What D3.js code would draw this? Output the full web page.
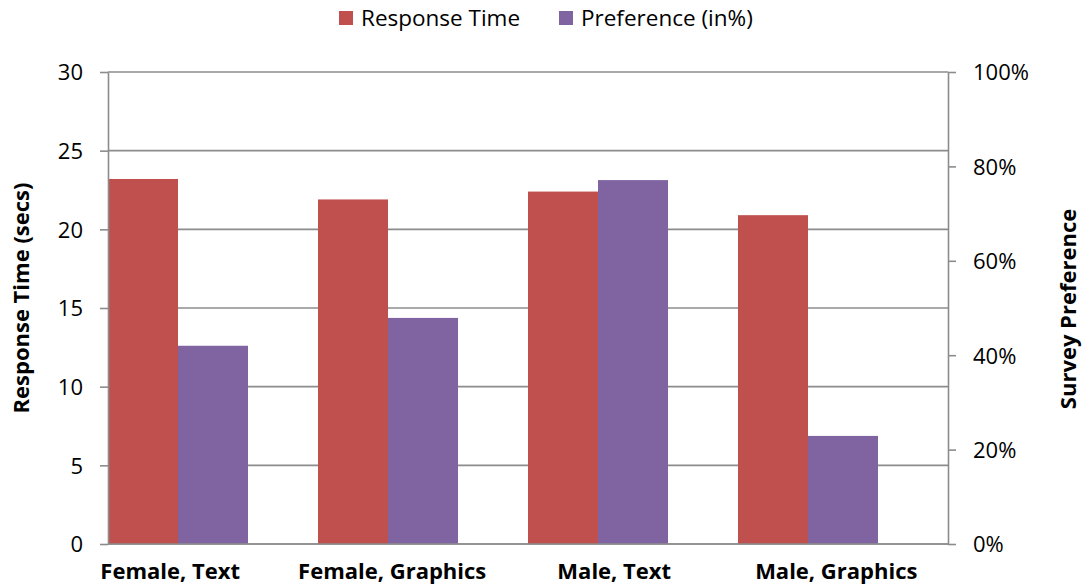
<!DOCTYPE html>
<html>
<head>
<meta charset="utf-8">
<script src="https://d3js.org/d3.v7.min.js"></script>
<style>
    body { margin: 0; background: #fff; }
    text { font-family: "Open Sans", sans-serif; fill: #000; }
</style>
</head>
<body>
<div id="chart"></div>
<script>
var categories = ["Female, Text", "Female, Graphics", "Male, Text", "Male, Graphics"];
var responseTime = [23.2, 21.9, 22.4, 20.9];
var preference = [42.0, 47.9, 77.1, 22.9];
var leftTicks = [0, 5, 10, 15, 20, 25, 30];
var rightTicks = [0, 20, 40, 60, 80, 100];
var seriesNames = ["Response Time", "Preference (in%)"];
var seriesColors = ["#C0504D", "#8064A2"];

var margin = {top: 72, right: 141, bottom: 43, left: 108}
    , width = 1089 - margin.left - margin.right
    , height = 587 - margin.top - margin.bottom;

var svg = d3.select("#chart")
    .append("svg")
    .attr("width", 1089)
    .attr("height", 587);

var main = svg.append("g")
    .attr("transform", "translate(" + margin.left + "," + margin.top + ")");

var x = d3.scaleBand()
    .domain(categories)
    .range([0, width])
    .padding(0);

// label positions in the original sit a bit off the band centres
var xLabel = d3.scalePoint()
    .domain(categories)
    .range([width * 0.074, width * 0.867]);

var yLeft = d3.scaleLinear().domain([0, 30]).range([height, 0]);
var yRight = d3.scaleLinear().domain([0, 100]).range([height, 0]);

// gridlines
main.append("g")
    .selectAll("line")
    .data(leftTicks)
    .enter().append("line")
    .attr("x1", 0)
    .attr("x2", width)
    .attr("y1", function (d) { return yLeft(d); })
    .attr("y2", function (d) { return yLeft(d); })
    .style("stroke", "#8c8c8c")
    .style("stroke-width", 1.6);

var barW = x.bandwidth() / 3;

main.append("g")
    .selectAll("rect")
    .data(responseTime)
    .enter().append("rect")
    .attr("x", function (d, i) { return x(categories[i]); })
    .attr("y", function (d) { return yLeft(d); })
    .attr("width", barW)
    .attr("height", function (d) { return height - yLeft(d); })
    .style("fill", seriesColors[0]);

main.append("g")
    .selectAll("rect")
    .data(preference)
    .enter().append("rect")
    .attr("x", function (d, i) { return x(categories[i]) + barW; })
    .attr("y", function (d) { return yRight(d); })
    .attr("width", barW)
    .attr("height", function (d) { return height - yRight(d); })
    .style("fill", seriesColors[1]);

// left axis
var leftAxis = main.append("g")
    .call(d3.axisLeft(yLeft).tickValues(leftTicks).tickSizeInner(8).tickSizeOuter(0).tickPadding(17));
leftAxis.selectAll("line, path").style("stroke", "#8c8c8c").style("stroke-width", 1.6);
leftAxis.selectAll("text").style("font-size", "22px").attr("dy", "0.36em");

// right axis
var rightAxis = main.append("g")
    .attr("transform", "translate(" + width + ",0)")
    .call(d3.axisRight(yRight).tickValues(rightTicks).tickSizeInner(8).tickSizeOuter(0).tickPadding(17)
        .tickFormat(function (d) { return d + "%"; }));
rightAxis.selectAll("line, path").style("stroke", "#8c8c8c").style("stroke-width", 1.6);
rightAxis.selectAll("text").style("font-size", "22px").attr("dy", "0.36em");

// bottom axis line
main.append("line")
    .attr("x1", 0).attr("x2", width)
    .attr("y1", height).attr("y2", height)
    .style("stroke", "#8c8c8c")
    .style("stroke-width", 1.6);

// category labels
main.append("g")
    .selectAll("text")
    .data(categories)
    .enter().append("text")
    .attr("x", function (d) { return xLabel(d); })
    .attr("y", height + 35)
    .attr("text-anchor", "middle")
    .style("font-size", "22px")
    .style("font-weight", "bold")
    .text(function (d) { return d; });

// axis titles
svg.append("text")
    .attr("transform", "translate(29,298) rotate(-90)")
    .attr("text-anchor", "middle")
    .style("font-size", "22px")
    .style("font-weight", "bold")
    .text("Response Time (secs)");

svg.append("text")
    .attr("transform", "translate(1076,309) rotate(-90)")
    .attr("text-anchor", "middle")
    .style("font-size", "22px")
    .style("font-weight", "bold")
    .text("Survey Preference");

// legend
var legend = svg.append("g").attr("transform", "translate(339,11)");
var legendX = [0, 220];
seriesNames.forEach(function (name, i) {
    var item = legend.append("g").attr("transform", "translate(" + legendX[i] + ",0)");
    item.append("rect")
        .attr("width", 14)
        .attr("height", 14)
        .style("fill", seriesColors[i]);
    item.append("text")
        .attr("x", 22)
        .attr("y", 15)
        .style("font-size", "22.5px")
        .text(name);
});
</script>
</body>
</html>
